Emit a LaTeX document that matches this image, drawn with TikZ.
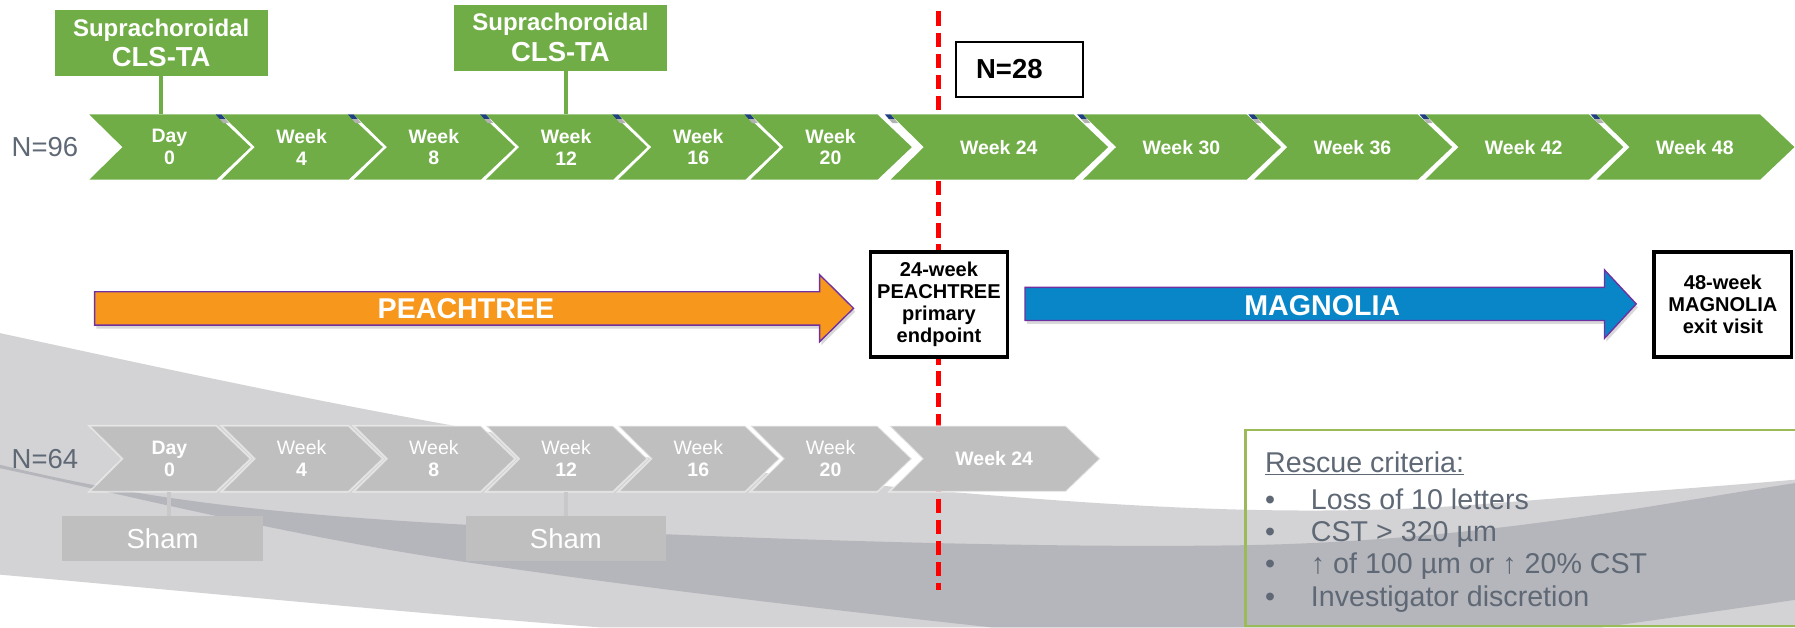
\documentclass[tikz,border=0pt]{standalone}
\usepackage{fontspec}
\setmainfont{Liberation Sans}
\usetikzlibrary{shadows}
\definecolor{cgreen}{RGB}{112,173,71}
\definecolor{cgray}{RGB}{191,191,191}
\definecolor{clight}{RGB}{211,211,213}
\definecolor{cdark}{RGB}{181,182,187}
\definecolor{ctext}{RGB}{95,104,117}
\definecolor{corange}{RGB}{247,152,29}
\definecolor{cblue}{RGB}{8,134,200}
\definecolor{cpurple}{RGB}{112,48,160}
\definecolor{cnavy}{RGB}{31,63,127}
\definecolor{cbox}{RGB}{155,187,89}
\definecolor{cline}{RGB}{200,200,200}
\definecolor{cred}{RGB}{255,0,0}

\newcommand\chev[8]{%
  \pgfmathsetmacro\cxa{#2+#3}%
  \pgfmathsetmacro\cxb{#2+#3+30}%
  \pgfmathsetmacro\cxn{#2+29}%
  \pgfmathsetmacro\cym{(#4+#5)/2}%
  \pgfmathsetmacro\cxc{#2+(#3+29)/2}%
  \path[#6] (#2,#4) -- (\cxa,#4) -- (\cxb,\cym) -- (\cxa,#5) -- (#2,#5) -- (\cxn,\cym) -- cycle;%
  \node[#7] (#1) at (\cxc,\cym) {#8};%
  \coordinate (#1-top) at (\cxc,#4);%
  \coordinate (#1-bot) at (\cxc,#5);%
}

\begin{document}
\begin{tikzpicture}[x=1pt,y=-1pt,
  chevtext/.style={text=white, align=center, inner sep=0pt, font=\fontsize{17}{19}\selectfont\bfseries},
  gchevtext/.style={text=white, align=center, inner sep=0pt, font=\fontsize{17}{19}\selectfont},
  greenchev/.style={fill=cgreen},
  graychev/.style={fill=cgray, draw=white, draw opacity=0.5, line width=1.5pt},
  supbox/.style={fill=cgreen, inner sep=0pt, minimum width=186pt, minimum height=57.5pt},
  suptop/.style={text=white, inner sep=0pt, anchor=base, font=\fontsize{21}{23}\selectfont\bfseries},
  supbot/.style={text=white, inner sep=0pt, anchor=base, font=\fontsize{24}{26}\selectfont\bfseries},
  supline/.style={draw=cgreen, line width=3.5pt},
  shambox/.style={fill=cgray, text=white, inner sep=0pt, minimum width=175pt, minimum height=39.3pt, font=\fontsize{24}{26}\selectfont},
  shamline/.style={draw=cline, line width=3.5pt},
  nlabel/.style={text=ctext, inner sep=0pt, anchor=base west, font=\fontsize{24}{26}\selectfont},
  endbox/.style={draw=black, line width=3pt, fill=white, inner sep=0pt, minimum width=120pt, minimum height=92pt,
     drop shadow={opacity=0.25, shadow xshift=1.5pt, shadow yshift=-2pt}},
  endtext/.style={align=center, inner sep=0pt, font=\fontsize{17.5}{19.3}\selectfont\bfseries},
  bigarrow/.style={draw=cpurple, line width=1.2pt, drop shadow={opacity=0.3, shadow xshift=1.5pt, shadow yshift=-3pt}},
  arrowtext/.style={text=white, inner sep=0pt, font=\fontsize{25}{27}\selectfont\bfseries},
  rctext/.style={text=ctext, inner sep=0pt, anchor=base west, font=\fontsize{25}{29}\selectfont},
  gapmark/.style={fill=cnavy},
  gapmarkb/.style={fill=black!30}
]
\useasboundingbox (0,0) rectangle (1568,548);

% ---------- background swooshes ----------
\fill[clight] (0,291) .. controls (250,345) and (500,400) .. (800,427)
  .. controls (1000,445) and (1150,452) .. (1300,440)
  .. controls (1400,432) and (1500,425) .. (1568,419)
  -- (1568,548) -- (524,548) .. controls (350,535) and (150,515) .. (0,502) -- cycle;
\fill[cdark] (0,406) .. controls (100,430) and (200,447) .. (400,458)
  .. controls (600,469) and (900,480) .. (1100,476)
  .. controls (1300,471) and (1450,440) .. (1568,422)
  -- (1568,524) .. controls (1500,534) and (1450,541) .. (1399,548)
  -- (866,548) .. controls (700,530) and (550,512) .. (407,491)
  .. controls (250,468) and (100,430) .. (0,409) -- cycle;

% ---------- red dashed line ----------
\coordinate (redtop) at (820,10);
\coordinate (redbot) at (820,515);
\draw[cred, line width=4pt, dash pattern=on 12.5pt off 6pt] (redtop) -- (redbot);

% ---------- green timeline ----------
\chev{g0}{78}{111}{100}{157}{greenchev}{chevtext}{Day\\0}
\chev{g4}{193.5}{111}{100}{157}{greenchev}{chevtext}{Week\\4}
\chev{g8}{309}{111}{100}{157}{greenchev}{chevtext}{Week\\8}
\chev{g12}{424.5}{111}{100}{157}{greenchev}{chevtext}{Week\\12}
\chev{g16}{540}{111}{100}{157}{greenchev}{chevtext}{Week\\16}
\chev{g20}{655.5}{111}{100}{157}{greenchev}{chevtext}{Week\\20}
\chev{g24}{778}{160}{100}{157}{greenchev}{chevtext}{Week 24}
\chev{g30}{946}{143}{100}{157}{greenchev}{chevtext}{Week 30}
\chev{g36}{1095.5}{143}{100}{157}{greenchev}{chevtext}{Week 36}
\chev{g42}{1245}{143}{100}{157}{greenchev}{chevtext}{Week 42}
\chev{g48}{1394.5}{143}{100}{157}{greenchev}{chevtext}{Week 48}

% ---------- gap marks (green row) ----------
\foreach \xl in {193.5,309,424.5,540,655.5,778,946,1095.5,1245,1394.5}{
  \fill[gapmark] (\xl-5,100) -- (\xl,100) -- (\xl+3.5,104) -- (\xl-1.5,104) -- cycle;
  \fill[gapmarkb] (\xl-1.5,104) -- (\xl+3.5,104) -- (\xl+6.5,107.5) -- (\xl+1.5,107.5) -- cycle;
}

\node[nlabel] (n96) at (10,137) {N=96};

% ---------- Suprachoroidal boxes ----------
\node[supbox] (sup1) at (140.8,37.5) {};
\node[suptop] (sup1a) at (140.8,31.5) {Suprachoroidal};
\node[supbot] (sup1b) at (140.8,58.3) {CLS-TA};
\node[supbox] (sup2) at (489.6,33) {};
\node[suptop] (sup2a) at (489.6,27) {Suprachoroidal};
\node[supbot] (sup2b) at (489.6,54) {CLS-TA};
\draw[supline] (sup1.south) -- (sup1.south |- g0-top);
\draw[supline] (sup2.south -| g12-top) -- (g12-top);

% ---------- N=28 ----------
\node[draw=black, line width=1.5pt, fill=white, inner sep=0pt, minimum width=111pt, minimum height=48pt] (n28box) at (890.5,60.5) {};
\node[inner sep=0pt, anchor=base west, font=\fontsize{24}{26}\selectfont\bfseries] (n28) at (852.5,69) {N=28};

% ---------- gray timeline ----------
\chev{s0}{78}{111}{372}{429.5}{graychev}{gchevtext}{\textbf{Day}\\\textbf{0}}
\chev{s4}{193.5}{111}{372}{429.5}{graychev}{gchevtext}{Week\\\textbf{4}}
\chev{s8}{309}{111}{372}{429.5}{graychev}{gchevtext}{Week\\\textbf{8}}
\chev{s12}{424.5}{111}{372}{429.5}{graychev}{gchevtext}{Week\\\textbf{12}}
\chev{s16}{540}{111}{372}{429.5}{graychev}{gchevtext}{Week\\\textbf{16}}
\chev{s20}{655.5}{111}{372}{429.5}{graychev}{gchevtext}{Week\\\textbf{20}}
\chev{s24}{777}{154}{372}{429.5}{graychev}{gchevtext}{\textbf{Week 24}}

\node[nlabel] (n64) at (10,409.5) {N=64};

\node[shambox] (sham1) at (142,470.3) {Sham};
\node[shambox] (sham2) at (494.3,470.3) {Sham};
\draw[shamline] (sham1.north -| s0-bot) -- (s0-bot);
\draw[shamline] (sham2.north -| s12-bot) -- (s12-bot);

% ---------- study arrows ----------
\filldraw[fill=corange, bigarrow] (82.7,254.8) -- (716,254.8) -- (716,240) -- (745.6,269.3)
  -- (716,298.5) -- (716,284) -- (82.7,284) -- cycle;
\node[arrowtext] (peach) at (407,270) {PEACHTREE};

\filldraw[fill=cblue, bigarrow] (895.4,251) -- (1401.6,251) -- (1401.6,235.8) -- (1429.3,265.5)
  -- (1401.6,295.5) -- (1401.6,280) -- (895.4,280) -- cycle;
\node[arrowtext] (magn) at (1155,267) {MAGNOLIA};

% ---------- end point boxes ----------
\node[endbox] (ep24) at (820.2,266) {};
\node[endtext] (ep24t) at (ep24.center) {24-week\\PEACHTREE\\primary\\endpoint};
\node[endbox] (ep48) at (1505,266) {};
\node[endtext] (ep48t) at (ep48.center) {48-week\\MAGNOLIA\\exit visit};

% ---------- rescue criteria ----------
\draw[cbox, line width=1.8pt] (1088,375.6) rectangle (1575,547);
\node[rctext] (rc0) at (1105,413) {\underline{Rescue criteria:}};
\node[rctext] (rc1) at (1105,445) {\makebox[40pt][l]{•}Loss of 10 letters};
\node[rctext] (rc2) at (1105,473) {\makebox[40pt][l]{•}CST > 320 µm};
\node[rctext] (rc3) at (1105,501) {\makebox[40pt][l]{•}↑ of 100 µm or ↑ 20\% CST};
\node[rctext] (rc4) at (1105,530) {\makebox[40pt][l]{•}Investigator discretion};
\end{tikzpicture}
\end{document}
